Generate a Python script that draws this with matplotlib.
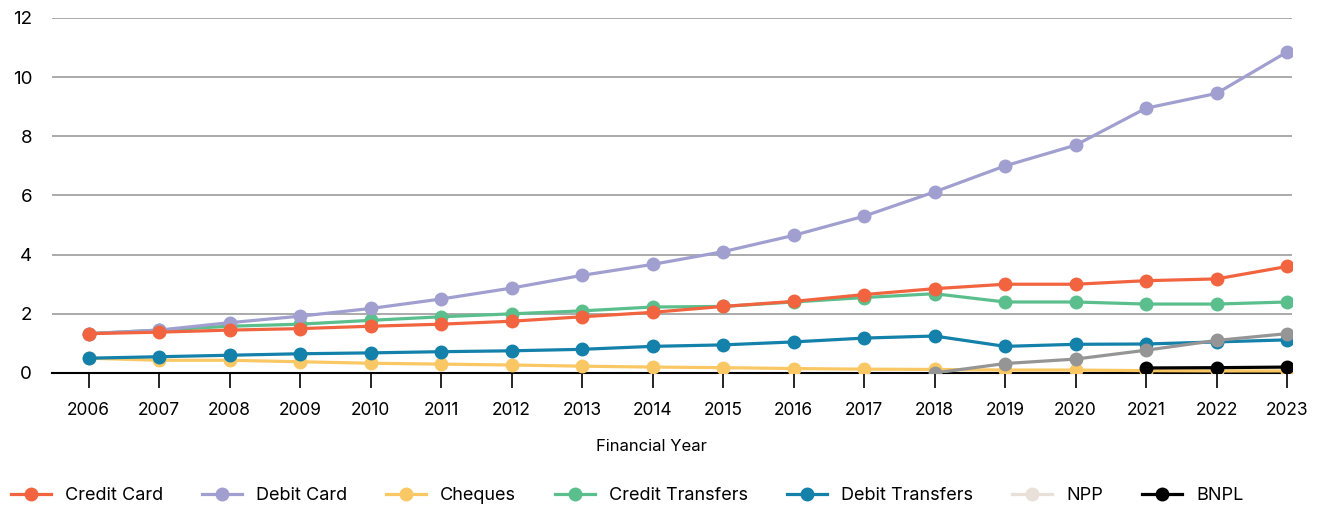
import matplotlib.pyplot as plt
from matplotlib.lines import Line2D

plt.rcParams['font.family'] = ['Inter', 'DejaVu Sans']

years = list(range(2006, 2024))
credit_card = [1.33, 1.38, 1.45, 1.5, 1.58, 1.65, 1.75, 1.9, 2.05, 2.25, 2.42, 2.65, 2.85, 3.0, 3.0, 3.12, 3.18, 3.6]
debit_card = [1.33, 1.45, 1.7, 1.92, 2.18, 2.5, 2.87, 3.3, 3.67, 4.1, 4.65, 5.3, 6.12, 7.0, 7.7, 8.95, 9.45, 10.85]
cheques = [0.5, 0.43, 0.43, 0.38, 0.33, 0.3, 0.27, 0.23, 0.2, 0.18, 0.15, 0.13, 0.12, 0.1, 0.1, 0.08, 0.07, 0.07]
credit_transfers = [1.33, 1.45, 1.58, 1.65, 1.78, 1.9, 2.0, 2.1, 2.23, 2.25, 2.4, 2.55, 2.68, 2.4, 2.4, 2.33, 2.33, 2.4]
debit_transfers = [0.5, 0.55, 0.6, 0.65, 0.68, 0.72, 0.75, 0.8, 0.9, 0.95, 1.05, 1.18, 1.25, 0.9, 0.97, 0.98, 1.05, 1.12]
npp_years = [2018, 2019, 2020, 2021, 2022, 2023]
npp = [0.0, 0.32, 0.47, 0.77, 1.1, 1.33]
bnpl_years = [2021, 2022, 2023]
bnpl = [0.17, 0.18, 0.2]

fig = plt.figure(figsize=(13.21, 5.05), dpi=100)
ax = fig.add_axes([0.039, 0.2614, 0.939, 0.703])

lw = 2.3
ms = 9
ax.plot(years, cheques, color='#f9c865', lw=lw, marker='o', ms=ms, zorder=3)
ax.plot(years, credit_transfers, color='#5abf8c', lw=lw, marker='o', ms=ms, zorder=4)
ax.plot(years, debit_card, color='#a09fd0', lw=lw, marker='o', ms=ms, zorder=5)
ax.plot(years, credit_card, color='#f26440', lw=lw, marker='o', ms=ms, zorder=6)
ax.plot(years, debit_transfers, color='#1381aa', lw=lw, marker='o', ms=ms, zorder=6)
ax.plot(npp_years, npp, color='#959595', lw=lw, marker='o', ms=ms, zorder=7)
ax.plot(bnpl_years, bnpl, color='black', lw=lw, marker='o', ms=ms, zorder=7)

ax.set_xlim(2005.475, 2023.07)
ax.set_ylim(0, 12)
ax.set_yticks(range(0, 13, 2))
ax.set_xticks(years)
ax.grid(axis='y', color='#aaaaaa', lw=1.4)
ax.set_axisbelow(True)
for s in ['top', 'right', 'left']:
    ax.spines[s].set_visible(False)
ax.spines['bottom'].set_color('black')
ax.spines['bottom'].set_linewidth(1.5)
ax.spines['bottom'].set_zorder(2)
ax.tick_params(axis='y', length=0, labelsize=13.5, pad=14)
ax.tick_params(axis='x', length=11, width=1.2, labelsize=12.5, pad=10)
ax.set_xlabel('Financial Year', fontsize=12, labelpad=14)
ax.xaxis.label.set_x(0.484)

labels = ['Credit Card', 'Debit Card', 'Cheques', 'Credit Transfers', 'Debit Transfers', 'NPP', 'BNPL']
colors = ['#f26440', '#a09fd0', '#f9c865', '#5abf8c', '#1381aa', '#e8e0d9', 'black']
handles = [Line2D([], [], color=c, lw=lw, marker='o', ms=ms) for c in colors]
fig.legend(handles, labels, loc='lower left', bbox_to_anchor=(-0.004, -0.03), ncol=7,
           frameon=False, fontsize=13, handlelength=2.2, columnspacing=2.15, handletextpad=0.8)

fig.savefig('out.png', dpi=100)
